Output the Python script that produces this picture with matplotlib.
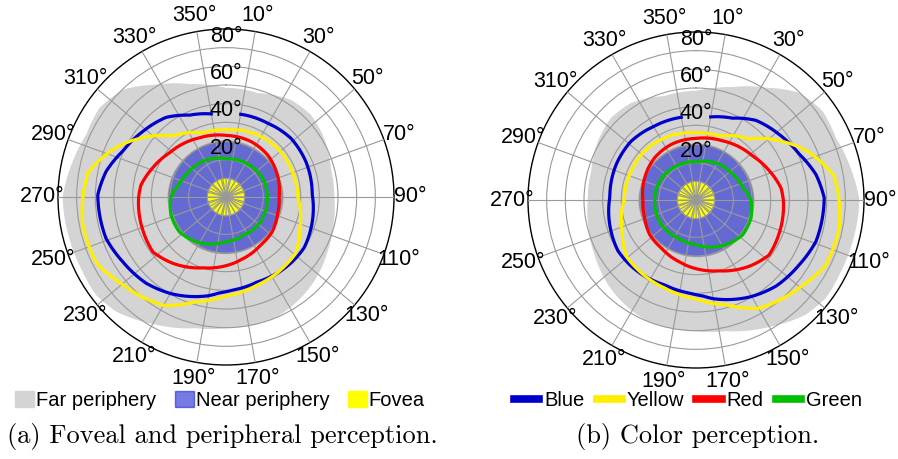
import numpy as np
import matplotlib
matplotlib.use("Agg")
import matplotlib.pyplot as plt
from matplotlib.patches import Patch, PathPatch
from matplotlib.lines import Line2D
from matplotlib.path import Path

plt.rcParams["font.family"] = ["Liberation Sans", "DejaVu Sans"]

# Angles in degrees, clockwise from the top, as seen in panel (a).
# Panel (b) shows the same field mirrored left/right.
far_theta = [0, 17, 34, 46, 59, 75, 90, 103, 118, 134, 144, 158, 180, 193, 209,
             224, 233, 243, 255, 270, 283, 294, 305, 316, 328, 342, 350]
far_r = [58.5, 58.2, 62.6, 63.3, 61.3, 58.2, 58, 59.3, 61.7, 65.4, 67.4, 70, 70.3, 72.1, 78.1,
         85.1, 87.2, 86.6, 86.8, 87.5, 84.3, 82, 82.9, 79.8, 70.9, 63.6, 61]

near_theta = [0, 30, 60, 90, 120, 150, 180, 210, 240, 270, 300, 330]
near_r = [29.6, 29.5, 30, 30.4, 30.2, 30, 30.2, 30.5, 30.6, 30.9, 30.4, 29.8]

fovea_r = 10

# blue has no data around 0 deg (gap under the 40 deg label)
blue_theta = [9, 29, 48, 66, 88, 110, 123, 135, 160, 176, 184, 190, 209, 223, 238, 251,
              271, 282, 294, 308, 323, 336, 351]
blue_r = [45, 45.4, 46.9, 46.8, 46.2, 48.5, 49.9, 49.6, 48.5, 50, 51.5, 53.7, 59.4, 63, 65.3, 68,
          68.7, 65.7, 60.5, 56.8, 53.4, 48, 45]

yellow_theta = [0, 27, 46, 66, 90, 113, 129, 140, 160, 180, 196, 210, 230, 243, 259, 271,
                280, 287, 295, 304, 319, 340]
yellow_r = [36, 37.3, 38, 38, 38.5, 43, 48, 48.6, 50, 53, 58.3, 67, 72.7, 77.8, 78.2, 76.5,
            75, 70, 64, 56, 43.3, 36.5]

red_theta = [0, 24, 44, 66, 90, 109, 127, 144, 164, 180, 198, 219, 233, 248, 270, 278,
             292, 308, 336]
red_r = [33, 32.6, 31.7, 30, 28.4, 29.1, 31, 31.7, 34.2, 36.8, 39.9, 45.6, 49, 48, 46.8, 46,
         42.2, 38.4, 34.7]

green_theta = [0, 30, 63, 95, 125, 155, 180, 214, 233, 252, 270, 285, 305, 327]
green_r = [20.5, 21, 22, 22.2, 22.8, 22.5, 24, 28.8, 31.2, 31, 29.5, 26, 24, 22.8]

ring_ticks = [10, 20, 30, 40, 50, 60, 70, 80]
ring_labels = [20, 40, 60, 80]
angle_ticks = list(range(10, 360, 20))

FAR_C = "#d4d4d4"
NEAR_C = "#1a23d0"
FOVEA_C = "#ffff00"
curves = [
    ("Blue", blue_theta, blue_r, "#0000cc", False),
    ("Yellow", yellow_theta, yellow_r, "#ffee00", True),
    ("Red", red_theta, red_r, "#ff0000", True),
    ("Green", green_theta, green_r, "#00c000", True),
]


def polar_path(t, r, sign, close=True):
    # the polar transform bends each segment along theta when the path
    # asks for interpolation steps (same trick ax.bar uses on polar axes)
    t, r = list(t), list(r)
    if close:
        t, r = t + [t[0] + 360], r + [r[0]]
    verts = np.column_stack([np.deg2rad(np.array(t, dtype=float) * sign), r])
    return Path(verts, _interpolation_steps=40)


def draw_panel(ax, mirror):
    sign = -1 if mirror else 1
    ax.set_theta_zero_location("N")
    ax.set_theta_direction(-1)
    ax.set_ylim(0, 90)

    ax.add_patch(PathPatch(polar_path(far_theta, far_r, sign), transform=ax.transData,
                           facecolor=FAR_C, lw=0, zorder=1))
    ax.add_patch(PathPatch(polar_path(near_theta, near_r, sign), transform=ax.transData,
                           facecolor=NEAR_C, alpha=0.6, edgecolor="#888888", lw=1.2,
                           zorder=1.1))
    ax.bar(np.deg2rad(np.arange(0, 360, 15)), fovea_r, width=np.deg2rad(15), align="edge",
           color=FOVEA_C, edgecolor="#999999", lw=0.7, zorder=1.2)

    for name, t, r, c, close in curves:
        ax.add_patch(PathPatch(polar_path(t, r, sign, close), transform=ax.transData,
                               fill=False, edgecolor=c, lw=2.3, joinstyle="round",
                               capstyle="butt", zorder=3))

    ax.set_thetagrids(angle_ticks, labels=[f"{a}°" for a in angle_ticks], fontsize=15.5)
    ax.set_rgrids(ring_ticks, labels=[""] * len(ring_ticks))
    ax.grid(color="#999999", lw=0.8)
    ax.set_axisbelow(False)
    ax.tick_params(axis="x", pad=1)
    ax.spines["polar"].set_color("black")
    ax.spines["polar"].set_linewidth(1.0)
    for r in ring_labels:
        ax.text(0, r + 0.5, f"{r}°", ha="center", va="bottom", fontsize=15.5, zorder=4)


fig = plt.figure(figsize=(8.98, 4.59), dpi=100)
ax_a = fig.add_axes([58 / 898, 94 / 459, 336 / 898, 336 / 459], projection="polar")
ax_b = fig.add_axes([528 / 898, 91 / 459, 336 / 898, 336 / 459], projection="polar")
draw_panel(ax_a, False)
draw_panel(ax_b, True)

handles_a = [Patch(color=FAR_C), Patch(color=NEAR_C, alpha=0.6), Patch(color=FOVEA_C)]
fig.legend(handles_a, ["Far periphery", "Near periphery", "Fovea"], loc="center",
           bbox_to_anchor=(220 / 898, 0.128), ncol=3, frameon=False, fontsize=14.5,
           handlelength=0.95, handleheight=0.85, handletextpad=0.1, columnspacing=0.9)

handles_b = [Line2D([], [], color=c, lw=5.5) for _, _, _, c, _ in curves]
fig.legend(handles_b, [n for n, *_ in curves], loc="center",
           bbox_to_anchor=(688 / 898, 0.128), ncol=4, frameon=False, fontsize=14.5,
           handlelength=1.25, handletextpad=0.25, columnspacing=0.6)

fig.text(222 / 898, 0.048, "(a) Foveal and peripheral perception.", ha="center",
         va="center", family="cmr10", fontsize=19)
fig.text(698 / 898, 0.048, "(b) Color perception.", ha="center", va="center",
         family="cmr10", fontsize=19)

fig.savefig("out.png", dpi=100)
